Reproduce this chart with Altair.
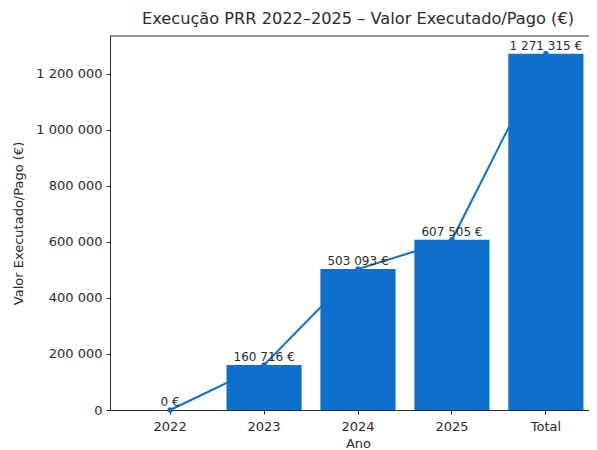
import altair as alt
import pandas as pd

categories = ["2022", "2023", "2024", "2025", "Total"]
values = [0, 160716, 503093, 607505, 1271315]

def fmt(v):
    return f"{v:,}".replace(",", " ") + " €"

df = pd.DataFrame({"Ano": categories, "Valor": values, "Label": [fmt(v) for v in values]})

BLUE = "#0f6fcc"
TXT = "#2b2b2b"
FONT = "DejaVu Sans"
YMAX = 1335000
W, H = 496, 374

x = alt.X("Ano:N", sort=categories, title="Ano",
          scale=alt.Scale(paddingInner=0.2, paddingOuter=0.24),
          axis=alt.Axis(labelAngle=0, labelFontSize=13, titleFontSize=13,
                        titleFontWeight="normal",
                        labelColor=TXT, titleColor=TXT, tickColor=TXT, domainColor=TXT,
                        tickSize=4, labelPadding=6, titlePadding=4, labelFont=FONT, titleFont=FONT))
y = alt.Y("Valor:Q", title="Valor Executado/Pago (€)",
          scale=alt.Scale(domain=[0, YMAX], nice=False),
          axis=alt.Axis(values=[0, 200000, 400000, 600000, 800000, 1000000, 1200000],
                        labelExpr="replace(format(datum.value, ',d'), /,/g, ' ')",
                        grid=False, labelFontSize=13, titleFontSize=13,
                        titleFontWeight="normal",
                        labelColor=TXT, titleColor=TXT, tickColor=TXT, domainColor=TXT,
                        tickSize=4, labelPadding=4, titlePadding=10, labelFont=FONT, titleFont=FONT))

base = alt.Chart(df)
bars = base.mark_bar(color=BLUE).encode(x=x, y=y)
line = base.mark_line(color=BLUE, strokeWidth=2).encode(x=alt.X("Ano:N", sort=categories), y="Valor:Q")
pts = base.mark_point(color=BLUE, filled=True, size=30, opacity=1).encode(x=alt.X("Ano:N", sort=categories), y="Valor:Q")
text = base.mark_text(baseline="bottom", dy=-1, fontSize=12, color=TXT, font=FONT).encode(
    x=alt.X("Ano:N", sort=categories), y="Valor:Q", text="Label:N")
top = alt.Chart(pd.DataFrame({"v": [YMAX]})).mark_rule(color=TXT, strokeWidth=1).encode(
    y=alt.Y("v:Q"), x=alt.value(0), x2=alt.value(W))

chart = (bars + line + pts + text + top).properties(
    width=W, height=H,
    title=alt.TitleParams("Execução PRR 2022–2025 – Valor Executado/Pago (€)", fontSize=16.2,
                          font=FONT, color=TXT, fontWeight="normal", anchor="middle",
                          frame="group", offset=8),
    autosize=alt.AutoSizeParams(type="none"),
    padding={"left": 102, "top": 28, "right": -17, "bottom": 40},
).configure_view(stroke=None)

chart.save("out.html", embed_options={"renderer": "svg", "actions": False})
